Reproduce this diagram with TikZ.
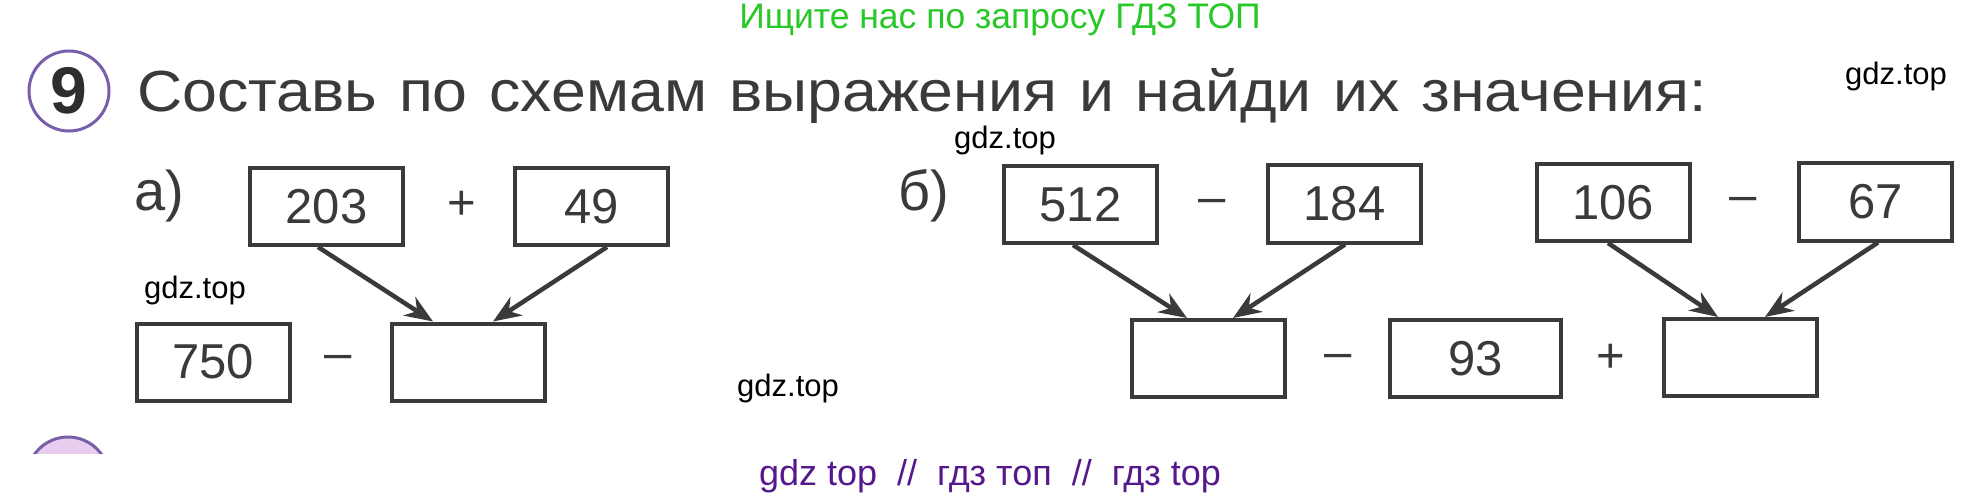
\documentclass[tikz,border=0pt]{standalone}
\usepackage{fontspec}
\setmainfont{Liberation Sans}
\newfontfamily\headfont[WordSpace=1.25]{Liberation Sans}
\usetikzlibrary{arrows.meta}
\definecolor{ink}{RGB}{58,58,58}
\definecolor{wmgreen}{RGB}{40,200,40}
\definecolor{wmpurple}{RGB}{85,25,140}
\definecolor{ringpurple}{RGB}{120,95,170}
\definecolor{ringfill}{RGB}{232,205,238}
\begin{document}
\begin{tikzpicture}[x=1pt,y=-1pt,
  numbox/.style={draw=ink, line width=4pt, minimum width=153pt, minimum height=77pt, inner sep=0pt, text=ink, font=\fontsize{49}{49}\selectfont},
  op/.style={text=ink, font=\fontsize{49}{49}\selectfont, inner sep=0pt},
  lbl/.style={text=ink, font=\fontsize{56}{56}\selectfont, inner sep=0pt, anchor=base west},
  arr/.style={draw=ink, line width=4.5pt, -{Stealth[length=28pt,width=22pt]}},
  wm/.style={text=black, font=\fontsize{31}{31}\selectfont, inner sep=0pt},
]
\useasboundingbox (0,0) rectangle (1983,497);
\fill[white] (0,0) rectangle (1983,497);

% watermark top
\node[text=wmgreen, font=\fontsize{35.5}{36}\selectfont, anchor=base, inner sep=0pt] (wmtop) at (1000,29) {Ищите нас по запросу ГДЗ ТОП};

% exercise number
\node[circle, draw=ringpurple, line width=3pt, minimum size=80pt, inner sep=0pt] (num) at (69,91) {};
\node[text=ink!80!black, font=\bfseries\fontsize{66}{66}\selectfont, inner sep=0pt] (nine) at (num.center) {9};

% heading
\node[text=ink, inner sep=0pt, anchor=base west] (title) at (137,112) {\scalebox{1.08}[1]{\headfont\fontsize{58}{58}\selectfont Составь по схемам выражения и найди их значения:}};

% part a
\node[lbl] (la) at (134,211) {а)};
\node[numbox] (n203) at (326.5,206.5) {203};
\node[op] (pa) at (462,205) {+};
\node[numbox] (n49) at (591.5,206.5) {49};
\node[numbox] (n750) at (213,362) {750};
\node[op] (ma) at (338,362) {–};
\node[numbox] (ea) at (468,362) {};
\draw[arr] ([xshift=-8.5pt]n203.south) -- ([xshift=-35pt]ea.north);
\draw[arr] ([xshift=15.5pt]n49.south) -- ([xshift=25pt]ea.north);

% part b
\node[lbl] (lb) at (898,211) {б)};
\node[numbox] (n512) at (1080.5,204.5) {512};
\node[op] (mb1) at (1212,206) {–};
\node[numbox] (n184) at (1344.5,204) {184};
\node[numbox] (n106) at (1613,202.5) {106};
\node[op] (mb2) at (1743,204) {–};
\node[numbox] (n67) at (1875.5,202) {67};
\node[numbox] (eb1) at (1208.5,358.5) {};
\node[op] (mb3) at (1338,361) {–};
\node[numbox, minimum width=171pt] (n93) at (1475.5,358.5) {93};
\node[op] (pb) at (1611,358) {+};
\node[numbox] (eb2) at (1740,357.5) {};
\draw[arr] ([xshift=-7.5pt]n512.south) -- ([xshift=-21.5pt]eb1.north);
\draw[arr] ([xshift=0.5pt]n184.south) -- ([xshift=24.5pt]eb1.north);
\draw[arr] ([xshift=-5pt]n106.south) -- ([xshift=-22pt]eb2.north);
\draw[arr] ([xshift=2.5pt]n67.south) -- ([xshift=25pt]eb2.north);

% watermarks
\node[wm] (w1) at (1896,76) {gdz.top};
\node[wm] (w2) at (1005,140) {gdz.top};
\node[wm] (w3) at (195,290) {gdz.top};
\node[wm] (w4) at (788,388) {gdz.top};

% next exercise ring (cut off)
\begin{scope}
\clip (0,0) rectangle (200,453);
\draw[draw=ringpurple, fill=ringfill, line width=3pt] (68,478) circle[radius=41pt];
\end{scope}

% bottom watermark
\node[text=wmpurple, font=\fontsize{36}{36}\selectfont, inner sep=0pt] (wmbot) at (990,476) {gdz top\ \ //\ \ гдз топ\ \ //\ \ гдз top};
\end{tikzpicture}
\end{document}
